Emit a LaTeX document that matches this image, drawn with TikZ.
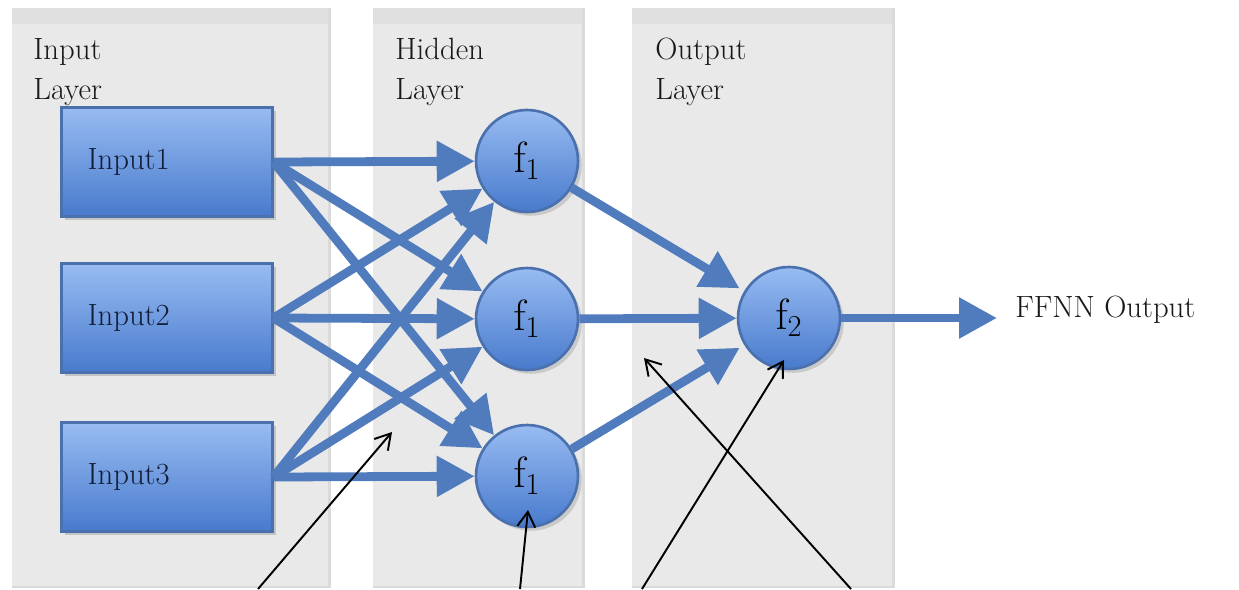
\documentclass[tikz,border=0pt]{standalone}
\usetikzlibrary{arrows.meta,shadows}
\definecolor{panelgray}{RGB}{233,233,233}
\definecolor{panelstrip}{RGB}{224,224,224}
\definecolor{paneledge}{RGB}{218,218,218}
\definecolor{boxtop}{RGB}{152,188,242}
\definecolor{boxbottom}{RGB}{72,122,204}
\definecolor{boxedge}{RGB}{74,112,174}
\definecolor{linkblue}{RGB}{80,124,190}
\definecolor{navytext}{RGB}{18,30,56}

\begin{document}
\begin{tikzpicture}[
  x=0.02cm, y=-0.02cm,
  every node/.style={font=\fontsize{17.5}{22.7}\selectfont},
  inbox/.style={rectangle, draw=boxedge, line width=1.2pt, top color=boxtop, bottom color=boxbottom, minimum width=4.22cm, minimum height=2.18cm, text width=3.18cm, inner xsep=0.52cm, align=left, text=navytext, drop shadow={opacity=0.35}},
  neuron/.style={circle, draw=boxedge, line width=1.5pt, top color=boxtop, bottom color=boxbottom, minimum size=2.04cm, inner sep=0pt, font=\fontsize{27}{30}\selectfont, drop shadow={opacity=0.3}},
  layerlabel/.style={anchor=north west, inner sep=0pt, align=left, text=black!90},
  link/.style={draw=linkblue, line width=5pt, -{Triangle[length=0.76cm, width=0.78cm]}},
  pointer/.style={draw=black, line width=1.1pt, -{Straight Barb[length=0.3cm, width=0.36cm]}}
]
  \useasboundingbox (0,0) rectangle (1239,589);

  \fill[paneledge] (12,8) rectangle (331,588);
  \fill[panelgray] (12,8) rectangle (328,586);
  \fill[panelstrip] (12,8) rectangle (328,24);
  \fill[paneledge] (373,8) rectangle (585,588);
  \fill[panelgray] (373,8) rectangle (582,586);
  \fill[panelstrip] (373,8) rectangle (582,24);
  \fill[paneledge] (632,8) rectangle (895,588);
  \fill[panelgray] (632,8) rectangle (892,586);
  \fill[panelstrip] (632,8) rectangle (892,24);

  \node[layerlabel] (inlabel) at (33,38) {Input\\Layer};
  \node[layerlabel] (hidlabel) at (395,38) {Hidden\\Layer};
  \node[layerlabel] (outlabel) at (655,38) {Output\\Layer};

  \node[inbox] (in1) at (167,162) {Input1};
  \node[inbox] (in2) at (167,318) {Input2};
  \node[inbox] (in3) at (167,477) {Input3};

  \node[neuron] (h1) at (527,161) {$\mathrm{f}_1$};
  \node[neuron] (h2) at (527,319) {$\mathrm{f}_1$};
  \node[neuron] (h3) at (527,476) {$\mathrm{f}_1$};
  \node[neuron] (f2) at (789,318) {$\mathrm{f}_2$};

  \draw[link] (in1.east) -- (h1);
  \draw[link] (in1.east) -- (h2);
  \draw[link] (in1.east) -- (h3);
  \draw[link] (in2.east) -- (h1);
  \draw[link] (in2.east) -- (h2);
  \draw[link] (in2.east) -- (h3);
  \draw[link] (in3.east) -- (h1);
  \draw[link] (in3.east) -- (h2);
  \draw[link] (in3.east) -- (h3);

  \draw[link, shorten >=3pt] (h1) -- (f2);
  \draw[link] (h2) -- (f2);
  \draw[link, shorten >=3pt] (h3) -- (f2);

  \coordinate (out) at (997,318);
  \draw[link] (f2) -- (out);
  \node[anchor=base west, inner sep=0pt, text=black!90] (outtext) at (1015,317) {FFNN Output};

  \coordinate (p1s) at (258,589);
  \coordinate (p1e) at (392,432);
  \coordinate (p2s) at (520,589);
  \coordinate (p2e) at (528,510);
  \coordinate (p3s) at (642,589);
  \coordinate (p3e) at (784,360);
  \coordinate (p4s) at (851,589);
  \coordinate (p4e) at (644,358);
  \draw[pointer] (p1s) -- (p1e);
  \draw[pointer] (p2s) -- (p2e);
  \draw[pointer] (p3s) -- (p3e);
  \draw[pointer] (p4s) -- (p4e);

\end{tikzpicture}
\end{document}
